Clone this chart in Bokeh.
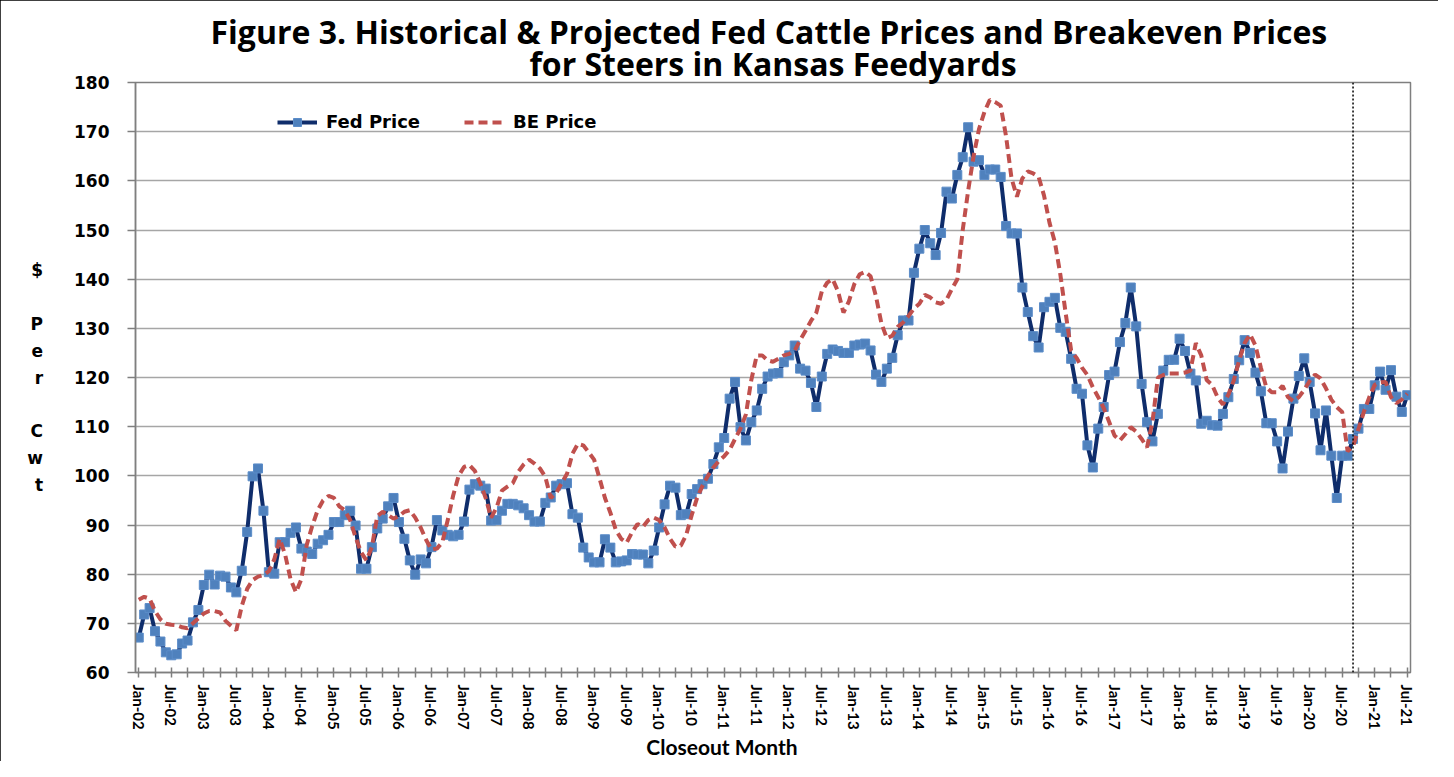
from bokeh.plotting import figure
from bokeh.models import FixedTicker, Legend, LegendItem, Span, Range1d, Title
from bokeh.embed import file_html
from bokeh.resources import INLINE

# ---------------- data (monthly, Jan-02 .. Jul-21) ----------------
fed_price = [
    67.1, 71.8, 73.1, 68.4, 66.3, 64.1, 63.5, 63.7, 65.9, 66.5,
    70.2, 72.7, 77.8, 79.9, 77.9, 79.7, 79.5, 77.3, 76.3, 80.7,
    88.6, 99.9, 101.5, 92.9, 80.4, 80.1, 86.5, 86.5, 88.4, 89.5,
    85.2, 84.6, 84.1, 86.2, 86.9, 88.0, 90.6, 90.6, 92.0, 92.9,
    89.9, 81.1, 81.1, 85.5, 89.3, 91.3, 93.8, 95.5, 90.6, 87.2,
    82.8, 79.9, 83.0, 82.2, 85.5, 91.0, 88.9, 88.0, 87.7, 88.0,
    90.7, 97.2, 98.3, 98.0, 97.4, 90.9, 91.0, 92.9, 94.3, 94.3,
    94.0, 93.4, 92.0, 90.7, 90.7, 94.5, 95.6, 98.0, 98.3, 98.5,
    92.2, 91.5, 85.4, 83.4, 82.4, 82.4, 87.1, 85.4, 82.4, 82.6,
    82.8, 84.1, 84.0, 84.0, 82.2, 84.8, 89.5, 94.2, 98.0, 97.6,
    92.0, 92.2, 96.3, 97.3, 98.3, 99.4, 102.4, 105.8, 107.7, 115.7,
    119.1, 109.9, 107.2, 110.9, 113.3, 117.7, 120.2, 120.8, 120.9, 123.1,
    124.5, 126.5, 121.8, 121.4, 118.9, 114.0, 120.2, 124.8, 125.7, 125.4,
    125.0, 125.0, 126.5, 126.7, 126.9, 125.5, 120.6, 119.1, 121.8, 124.0,
    128.6, 131.6, 131.6, 141.3, 146.2, 150.0, 147.3, 144.9, 149.4, 157.8,
    156.4, 161.2, 164.8, 170.9, 163.9, 164.2, 161.2, 162.3, 162.3, 160.8,
    150.8, 149.3, 149.3, 138.3, 133.3, 128.4, 126.1, 134.3, 135.4, 136.2,
    130.1, 129.3, 123.8, 117.7, 116.7, 106.2, 101.7, 109.6, 114.0, 120.5,
    121.2, 127.2, 131.1, 138.3, 130.4, 118.7, 110.9, 107.0, 112.6, 121.4,
    123.6, 123.6, 127.9, 125.4, 120.8, 119.4, 110.6, 111.2, 110.3, 110.2,
    112.6, 116.0, 119.7, 123.5, 127.6, 125.0, 121.0, 117.2, 110.7, 110.7,
    107.0, 101.5, 109.0, 115.7, 120.3, 123.9, 119.1, 112.7, 105.2, 113.3,
    104.1, 95.5, 104.1, 104.1, 107.5, 109.6, 113.6, 113.6, 118.4, 121.2,
    117.5, 121.5, 116.1, 113.0, 116.4,
]

be_price = [
    74.8, 75.4, 75.0, 72.5, 70.8, 69.9, 69.7, 69.6, 69.2, 69.0,
    70.0, 71.0, 72.0, 72.5, 72.5, 72.2, 70.5, 69.5, 68.6, 73.5,
    77.0, 78.8, 79.5, 79.8, 80.6, 83.0, 87.2, 84.0, 79.0, 76.3,
    79.0, 86.0, 89.8, 93.0, 95.0, 95.9, 95.5, 93.8, 93.0, 91.0,
    87.5, 84.5, 82.8, 85.5, 91.8, 92.7, 92.0, 91.3, 91.8, 92.7,
    93.0, 91.5, 89.5, 87.0, 85.0, 85.2, 86.5, 91.0, 96.0, 100.0,
    101.8, 102.2, 101.0, 98.5, 95.5, 91.5, 93.5, 97.0, 97.8, 98.5,
    100.8, 102.3, 103.3, 102.5, 101.5, 99.8, 95.5, 96.5, 98.5, 100.4,
    104.5, 106.5, 106.2, 104.8, 103.3, 99.5, 95.5, 92.5, 89.0, 87.2,
    86.4, 88.5, 90.2, 89.6, 91.0, 91.5, 91.0, 89.5, 87.2, 85.6,
    85.8, 88.0, 92.0, 95.5, 98.0, 100.0, 101.7, 103.0, 104.0, 105.3,
    107.5, 109.6, 112.5, 119.5, 124.5, 124.5, 123.5, 123.2, 123.8, 124.5,
    124.8, 125.5, 127.6, 129.5, 131.5, 133.2, 137.5, 139.3, 140.0, 137.5,
    133.2, 135.5, 139.0, 141.0, 141.5, 140.6, 136.5, 131.0, 128.0, 128.5,
    130.3, 131.2, 132.5, 134.0, 135.0, 136.8, 136.3, 135.3, 135.0, 135.8,
    138.0, 140.0, 150.0, 158.0, 165.0, 170.5, 174.0, 176.5, 176.0, 175.3,
    169.0, 160.5, 156.8, 160.5, 161.9, 161.5, 160.8, 157.0, 151.5, 147.5,
    141.0, 133.0, 125.5, 124.0, 122.0, 120.5, 118.0, 116.0, 113.8, 111.0,
    108.2, 107.2, 108.5, 109.9, 109.0, 107.5, 105.8, 111.0, 120.0, 120.5,
    120.8, 120.8, 120.8, 121.0, 121.4, 127.0, 124.5, 119.5, 118.5, 116.0,
    114.5, 116.5, 119.4, 123.5, 127.0, 128.8, 126.5, 122.0, 118.0, 117.0,
    117.0, 118.3, 116.0, 115.2, 116.0, 117.5, 119.3, 120.6, 119.8, 117.8,
    115.5, 114.0, 113.0, 105.0, 106.0, 109.5, 113.0, 116.0, 118.5, 119.0,
    119.1, 116.0, 114.8, 115.5, 116.7,
]

tick_labels = [
    "Jan-02", "Jul-02", "Jan-03", "Jul-03", "Jan-04", "Jul-04", "Jan-05", "Jul-05",
    "Jan-06", "Jul-06", "Jan-07", "Jul-07", "Jan-08", "Jul-08", "Jan-09", "Jul-09",
    "Jan-10", "Jul-10", "Jan-11", "Jul-11", "Jan-12", "Jul-12", "Jan-13", "Jul-13",
    "Jan-14", "Jul-14", "Jan-15", "Jul-15", "Jan-16", "Jul-16", "Jan-17", "Jul-17",
    "Jan-18", "Jul-18", "Jan-19", "Jul-19", "Jan-20", "Jul-20", "Jan-21", "Jul-21",
]
y_ticks = [60, 70, 80, 90, 100, 110, 120, 130, 140, 150, 160, 170, 180]
projection_start = 224  # month index where projections begin (Sep-20)

title_line1 = "Figure 3.  Historical & Projected Fed Cattle Prices and Breakeven Prices"
title_line2 = "for Steers in Kansas Feedyards"
x_title = "Closeout Month"
y_title = "$\n\nP\ne\nr\n\nC\nw\nt"

months = list(range(len(fed_price)))

# ---------------- figure ----------------
W, H = 1438, 761
FL, FR, FT, FB = 135, 28, 82, 89
p = figure(width=W, height=H, output_backend="svg", toolbar_location=None,
           x_range=Range1d(-0.6, 234.6), y_range=Range1d(60, 180),
           min_border_left=FL, min_border_right=FR, min_border_top=FT, min_border_bottom=FB,
           background_fill_color="white", border_fill_color="white")
p.styles = {"outline": "4px solid black", "outline-offset": "-4px"}


def make_title(text, standoff):
    kw = dict(text=text, align="center", text_font="Open Sans", text_font_style="bold",
              text_font_size="32px", text_color="black")
    try:
        return Title(standoff=standoff, **kw)
    except Exception:
        return Title(standoff=0, **kw)


# two title lines: the first one added sits closest to the plot
p.add_layout(make_title(title_line2, -5), "above")
p.add_layout(make_title(title_line1, -20), "above")

p.outline_line_color = "#7F7F7F"
p.outline_line_width = 1.5
p.xgrid.visible = False
p.ygrid.grid_line_color = "#A6A6A6"
p.ygrid.grid_line_width = 1.5

# x axis
major = [i * 6 for i in range(len(tick_labels))]
minor = [i * 6 + 3 for i in range(len(tick_labels) - 1)]
p.xaxis.ticker = FixedTicker(ticks=major, minor_ticks=minor)
p.xaxis.major_label_overrides = {m: lab for m, lab in zip(major, tick_labels)}
p.xaxis.major_label_orientation = "vertical"
p.xaxis.axis_line_color = "#7F7F7F"
p.xaxis.axis_line_width = 1.5
p.xaxis.major_tick_line_color = "#7F7F7F"
p.xaxis.minor_tick_line_color = "#7F7F7F"
p.xaxis.major_tick_line_width = 1.5
p.xaxis.minor_tick_line_width = 1.5
p.xaxis.major_tick_in = 5
p.xaxis.major_tick_out = 5
p.xaxis.minor_tick_in = 5
p.xaxis.minor_tick_out = 5
p.xaxis.major_label_standoff = 7
p.xaxis.major_label_text_font = "Lato"
p.xaxis.major_label_text_font_style = "bold"
p.xaxis.major_label_text_font_size = "15px"
p.xaxis.major_label_text_color = "black"
p.xaxis.axis_label = x_title + "\u00a0" * 20
p.xaxis.axis_label_text_font = "Lato"
p.xaxis.axis_label_text_font_style = "bold"
p.xaxis.axis_label_text_font_size = "21px"
p.xaxis.axis_label_text_color = "black"
p.xaxis.axis_label_standoff = 1

# y axis
p.yaxis.ticker = FixedTicker(ticks=y_ticks)
p.yaxis.axis_line_color = "#7F7F7F"
p.yaxis.axis_line_width = 1.5
p.yaxis.major_tick_line_color = "#7F7F7F"
p.yaxis.major_tick_line_width = 1.5
p.yaxis.major_tick_in = 0
p.yaxis.major_tick_out = 8
p.yaxis.minor_tick_line_color = None
p.yaxis.major_label_standoff = 18
p.yaxis.major_label_text_font = "DejaVu Sans"
p.yaxis.major_label_text_font_style = "bold"
p.yaxis.major_label_text_font_size = "17px"
p.yaxis.major_label_text_color = "black"
p.yaxis.axis_label = y_title
p.yaxis.axis_label_orientation = "horizontal"
p.yaxis.axis_label_text_font = "DejaVu Sans"
p.yaxis.axis_label_text_font_style = "bold"
p.yaxis.axis_label_text_font_size = "17px"
p.yaxis.axis_label_text_line_height = 1.34
p.yaxis.axis_label_text_color = "black"
p.yaxis.axis_label_text_align = "center"
p.yaxis.axis_label_standoff = 28

# ---------------- series ----------------
fed_line = p.line(months, fed_price, line_color="#0F2D6B", line_width=4)
fed_pts = p.scatter(months, fed_price, marker="square", size=9,
                    fill_color="#4F81BD", line_color="#5B8CC8", line_width=1)
be_line = p.line(months, be_price, line_color="#C0504D", line_width=4, line_dash="9 5")

p.add_layout(Span(location=projection_start, dimension="height", line_color="black",
                  line_width=1.5, line_dash="2 2"))

legend = Legend(items=[LegendItem(label="Fed Price", renderers=[fed_line, fed_pts]),
                       LegendItem(label="BE Price", renderers=[be_line])],
                location=(142, 540), orientation="horizontal",
                glyph_width=40, glyph_height=20, label_standoff=9, spacing=44,
                padding=0, margin=0, border_line_color=None, background_fill_alpha=0,
                label_text_font="DejaVu Sans", label_text_font_style="bold",
                label_text_font_size="18px", label_text_color="black")
p.add_layout(legend)

open("out.html", "w").write(file_html(p, INLINE))
